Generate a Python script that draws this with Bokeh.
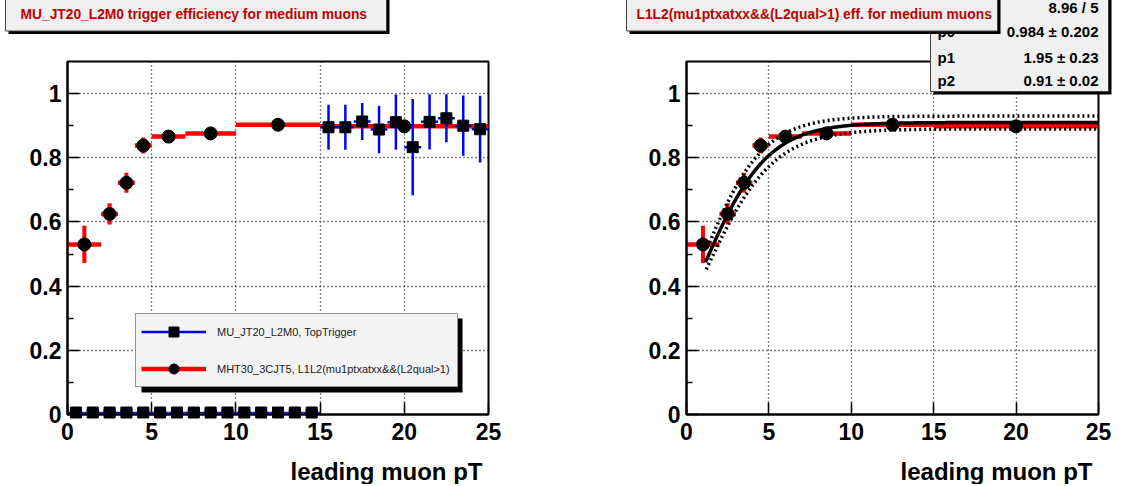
import numpy as np
from bokeh.plotting import figure
from bokeh.models import (BoxAnnotation, Label, Legend, LegendItem, FixedTicker, Range1d)
from bokeh.layouts import row, column
from bokeh.embed import file_html
from bokeh.resources import INLINE

FONT = "Liberation Sans"

# ---------------- data ----------------
red_x = [1.0, 2.5, 3.5, 4.5, 6.0, 8.5, 12.5, 20.0]
red_xlo = [0, 2, 3, 4, 5, 7, 10, 15]
red_xhi = [2, 3, 4, 5, 7, 10, 15, 25]
red_y = [0.530, 0.625, 0.722, 0.838, 0.866, 0.876, 0.903, 0.898]
red_err = [0.058, 0.033, 0.031, 0.025, 0.012, 0.012, 0.010, 0.018]

blue_x = [0.5, 1.5, 2.5, 3.5, 4.5, 5.5, 6.5, 7.5, 8.5, 9.5, 10.5, 11.5, 12.5,
          13.5, 14.5, 15.5, 16.5, 17.5, 18.5, 19.5, 20.5, 21.5, 22.5, 23.5, 24.5]
blue_y = [0, 0, 0, 0, 0, 0, 0, 0, 0, 0, 0, 0, 0, 0, 0,
          0.895, 0.895, 0.913, 0.888, 0.911, 0.833, 0.912, 0.923, 0.900, 0.889]
blue_err = [0, 0, 0, 0, 0, 0, 0, 0, 0, 0, 0, 0, 0, 0, 0,
            0.070, 0.070, 0.058, 0.074, 0.086, 0.150, 0.086, 0.075, 0.094, 0.104]

x_ticks = [0, 5, 10, 15, 20, 25]
x_tick_labels = ["0", "5", "10", "15", "20", "25"]
y_ticks = [0, 0.2, 0.4, 0.6, 0.8, 1]
y_tick_labels = ["0", "0.2", "0.4", "0.6", "0.8", "1"]
y_minor = [0.1, 0.3, 0.5, 0.7, 0.9]

# fit: p2 / (1 + exp(-(x - p0) / p1))
fit_p = [0.984, 1.95, 0.91]
fit_err = [0.202, 0.23, 0.02]
fit_chi2 = "8.96 / 5"
band_up_p = [0.834, 1.85, 0.93]
band_lo_p = [1.134, 2.05, 0.89]

stat_names = ["χ² / ndf", "p0", "p1", "p2"]
stat_values = [fit_chi2, "0.984 ± 0.202", "1.95 ± 0.23", "0.91 ± 0.02"]

left_title = "MU_JT20_L2M0 trigger efficiency for medium muons"
right_title = "L1L2(mu1ptxatxx&&(L2qual>1) eff. for medium muons"
legend_labels = ["MU_JT20_L2M0, TopTrigger", "MHT30_3CJT5, L1L2(mu1ptxatxx&&(L2qual>1)"]
x_label = "leading muon pT"

# ---------------- geometry (page pixels) ----------------
PW, PH = 1133, 486
FT, FB = 61, 414
W1 = 566
GL = dict(fl=67, fr=488)
GR = dict(fl=686, fr=1098)
XMAX, YMAX = 25.0, 1.1


def make_fig(g, border_left, border_right):
    p = figure(frame_width=g["fr"] - g["fl"], frame_height=FB - FT,
               x_range=Range1d(0, XMAX), y_range=Range1d(0, YMAX),
               output_backend="svg", toolbar_location=None,
               min_border_left=border_left, min_border_right=border_right,
               min_border_top=FT, min_border_bottom=70)
    p.background_fill_color = "white"
    p.border_fill_color = "white"
    p.outline_line_color = "black"
    p.outline_line_width = 2
    p.xaxis.ticker = FixedTicker(ticks=x_ticks, minor_ticks=[])
    p.xaxis.major_label_overrides = dict(zip(x_ticks, x_tick_labels))
    p.yaxis.ticker = FixedTicker(ticks=y_ticks, minor_ticks=y_minor)
    p.yaxis.major_label_overrides = dict(zip(y_ticks, y_tick_labels))
    for ax in (p.xaxis[0], p.yaxis[0]):
        ax.axis_line_width = 2
        ax.axis_line_color = "black"
        ax.major_tick_in = 12
        ax.major_tick_out = 0
        ax.minor_tick_in = 6
        ax.minor_tick_out = 0
        ax.major_tick_line_width = 1.5
        ax.minor_tick_line_width = 1.5
        ax.major_label_text_font = FONT
        ax.major_label_text_font_style = "bold"
        ax.major_label_text_font_size = "23px"
        ax.major_label_text_color = "black"
    p.xaxis.major_label_standoff = 8
    p.yaxis.major_label_standoff = 6
    for gr in (p.xgrid[0], p.ygrid[0]):
        gr.grid_line_color = "black"
        gr.grid_line_dash = "1 3"
        gr.grid_line_width = 1.3
    return p


def add_red(p):
    ylo = np.array(red_y) - np.array(red_err)
    yhi = np.array(red_y) + np.array(red_err)
    r1 = p.segment(x0=red_xlo, y0=red_y, x1=red_xhi, y1=red_y,
                   line_color="red", line_width=4.5)
    p.segment(x0=red_x, y0=ylo, x1=red_x, y1=yhi, line_color="red", line_width=4)
    return r1


# ---------------- left figure ----------------
pl = make_fig(GL, GL["fl"], W1 - GL["fr"])
r_red_bar = add_red(pl)
bx = np.array(blue_x)
r_blue_bar = pl.segment(x0=bx - 0.5, y0=blue_y, x1=bx + 0.5, y1=blue_y,
                        line_color="blue", line_width=2.5)
pl.segment(x0=blue_x, y0=np.array(blue_y) - np.array(blue_err), x1=blue_x,
           y1=np.array(blue_y) + np.array(blue_err), line_color="blue", line_width=2.5)
r_sq = pl.scatter(blue_x, blue_y, marker="square", size=11, color="black")
r_circ = pl.scatter(red_x, red_y, marker="circle", size=13, color="black")

# legend (shadow + legend)
pl.add_layout(BoxAnnotation(left=141, right=462, top=318, bottom=392,
                            left_units="canvas", right_units="canvas",
                            top_units="canvas", bottom_units="canvas",
                            fill_color="black", fill_alpha=1, line_alpha=0))
legend = Legend(items=[LegendItem(label=legend_labels[0], renderers=[r_blue_bar, r_sq]),
                       LegendItem(label=legend_labels[1], renderers=[r_red_bar, r_circ])],
                location=(68, 27), padding=5, spacing=12, margin=0,
                glyph_width=65, glyph_height=25, label_height=14,
                label_standoff=11, label_width=235,
                label_text_font=FONT, label_text_font_size="11px",
                label_text_color="#222222",
                background_fill_color="#f4f4f4", background_fill_alpha=1.0,
                border_line_color="#333333", border_line_width=1)
pl.add_layout(legend, "center")

# ---------------- right figure ----------------
pr = make_fig(GR, GR["fl"] - W1, PW - GR["fr"])
add_red(pr)
pr.scatter(red_x, red_y, marker="circle", size=13, color="black")


def sigmoid(x, prm):
    return prm[2] / (1.0 + np.exp(-(x - prm[0]) / prm[1]))


xs = np.linspace(1.15, 25, 300)
xu = np.linspace(1.4, 25, 300)
xl = np.linspace(1.2, 25, 300)
pr.line(xu, sigmoid(xu, band_up_p), line_color="black", line_width=3.5, line_dash="2 3")
pr.line(xl, sigmoid(xl, band_lo_p), line_color="black", line_width=3.5, line_dash="2 3")
pr.line(xs, sigmoid(xs, fit_p), line_color="black", line_width=3.5)

# ---------------- transparent overlay (page-pixel space) ----------------
po = figure(width=PW, height=PH, x_range=Range1d(0, PW), y_range=Range1d(PH, 0),
            x_axis_type=None, y_axis_type=None, output_backend="svg",
            toolbar_location=None, min_border=0, min_border_left=0,
            min_border_right=0, min_border_top=0, min_border_bottom=0)
po.background_fill_color = None
po.border_fill_color = None
po.outline_line_color = None
po.grid.visible = False
po.margin = (-PH, 0, 0, 0)

# data ranges of the left panel, mapped onto the full overlay so that markers
# sitting on the frame edge are not clipped (as in the original)
sxl = (GL["fr"] - GL["fl"]) / XMAX
syl = (FB - FT) / YMAX
po.extra_x_ranges = {"lx": Range1d(-GL["fl"] / sxl, (PW - GL["fl"]) / sxl)}
po.extra_y_ranges = {"ly": Range1d((FB - PH) / syl, FB / syl)}
edge = np.array(blue_y) == 0
ex = bx[edge]
ey = np.array(blue_y)[edge]
po.segment(x0=ex - 0.5, y0=ey, x1=ex + 0.5, y1=ey, line_color="#1010c0", line_width=1.5,
           x_range_name="lx", y_range_name="ly")
po.scatter(ex, ey, marker="square", size=11, color="black",
           x_range_name="lx", y_range_name="ly")


def pbox(x0, y0, x1, y1, shadow=True, fill="#f0f0f0"):
    if shadow:
        po.add_layout(BoxAnnotation(left=x0 + 3, right=x1 + 3, top=y0, bottom=y1 + 3,
                                    fill_color="black", fill_alpha=1, line_alpha=0))
    po.add_layout(BoxAnnotation(left=x0, right=x1, top=y0, bottom=y1,
                                fill_color=fill, fill_alpha=1,
                                line_color="#444444", line_alpha=1, line_width=1))


def ptext(x, y, text, size, color="black", align="left", baseline="middle"):
    po.add_layout(Label(x=x, y=y, text=text, text_align=align, text_baseline=baseline,
                        text_font=FONT, text_font_style="bold",
                        text_font_size=size, text_color=color))


# axis titles
ptext(GL["fr"] - 6, 473, x_label, "24px", align="right", baseline="alphabetic")
ptext(GR["fr"] - 6, 473, x_label, "24px", align="right", baseline="alphabetic")

# left title
pbox(5, -10, 386, 32.5)
ptext(20, 16, left_title, "13.8px", color="#c00000")

# stats box
pbox(930, -10, 1108, 93)
row_y = [9, 33, 59, 82]
for name, val, yy in zip(stat_names, stat_values, row_y):
    ptext(937, yy, name, "15px")
    ptext(1098, yy, val, "15px", align="right")

# right title (on top of stats box)
pbox(626, -10, 997, 32.5)
ptext(636, 16, right_title, "13.8px", color="#c00000")

layout = column(row(pl, pr), po)
open("out.html", "w").write(file_html(layout, INLINE))
